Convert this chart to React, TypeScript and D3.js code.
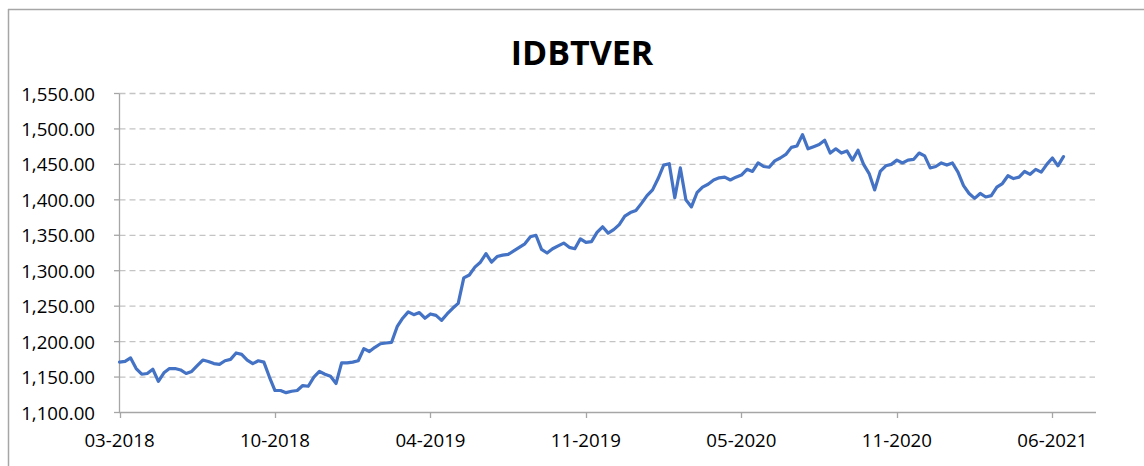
import React, { useEffect, useRef } from 'react';
import * as d3 from 'd3';

// chart text
const title = 'IDBTVER';

// weekly index levels, first observation on startDate
const startDate = '2018-03-23';
const values = [
  1171, 1172, 1177, 1162, 1154, 1155, 1161, 1144, 1156, 1162,
  1162, 1160, 1155, 1158, 1166, 1174, 1172, 1169, 1168, 1173,
  1175, 1184, 1182, 1174, 1169, 1173, 1171, 1150, 1131, 1131,
  1128, 1130, 1131, 1138, 1137, 1150, 1158, 1154, 1151, 1141,
  1170, 1170, 1171, 1173, 1190, 1186, 1192, 1197, 1198, 1199,
  1221, 1233, 1242, 1238, 1241, 1233, 1239, 1237, 1230, 1239,
  1247, 1254, 1290, 1294, 1305, 1312, 1324, 1312, 1320, 1322,
  1323, 1328, 1333, 1338, 1348, 1350, 1330, 1325, 1331, 1335,
  1339, 1333, 1331, 1345, 1340, 1341, 1354, 1362, 1353, 1358,
  1365, 1377, 1382, 1385, 1395, 1406, 1414, 1430, 1449, 1451,
  1403, 1445, 1400, 1390, 1410, 1418, 1422, 1428, 1431, 1432,
  1428, 1432, 1435, 1443, 1440, 1452, 1447, 1446, 1455, 1459,
  1464, 1474, 1476, 1492, 1472, 1475, 1478, 1484, 1466, 1472,
  1466, 1469, 1456, 1470, 1450, 1437, 1414, 1440, 1448, 1450,
  1456, 1452, 1456, 1457, 1466, 1462, 1445, 1447, 1452, 1449,
  1452, 1439, 1420, 1409, 1402, 1409, 1404, 1406, 1418, 1423,
  1434, 1430, 1432, 1440, 1436, 1443, 1439, 1450, 1459, 1448,
  1461,
];

// axes
const yTicks = [1100, 1150, 1200, 1250, 1300, 1350, 1400, 1450, 1500, 1550];
const xTickDates = ['2018-03-23', '2018-10-05', '2019-04-19', '2019-11-01', '2020-05-15', '2020-11-27', '2021-06-11'];
const axisEndDate = '2021-08-05';

const App = () => {
  const ref = useRef(null);

  useEffect(() => {
    const svg = d3.select(ref.current);
    svg.selectAll('*').remove();

    const parse = d3.utcParse('%Y-%m-%d');
    const start = parse(startDate);
    const data = values.map((v, i) => ({ date: d3.utcDay.offset(start, 7 * i), value: v }));

    const x = d3.scaleUtc()
      .domain([start, parse(axisEndDate)])
      .range([119.5, 1096]);

    const y = d3.scaleLinear()
      .domain([1100, 1550])
      .range([412.5, 93.5]);

    const font = "'Open Sans', sans-serif";

    // chart area border (left and top edges visible)
    svg.append('line')
      .attr('x1', 8.5).attr('x2', 8.5).attr('y1', 9).attr('y2', 466)
      .attr('stroke', '#a6a6a6').attr('stroke-width', 1.5);
    svg.append('line')
      .attr('x1', 8).attr('x2', 1144).attr('y1', 9.5).attr('y2', 9.5)
      .attr('stroke', '#a6a6a6').attr('stroke-width', 1.5);

    svg.append('text')
      .attr('x', 582)
      .attr('y', 65)
      .attr('text-anchor', 'middle')
      .style('font-family', font)
      .style('font-weight', 'bold')
      .style('font-size', '34px')
      .attr('fill', '#000')
      .text(title);

    // gridlines
    svg.append('g')
      .selectAll('line')
      .data(yTicks.filter(d => d !== 1100))
      .join('line')
      .attr('x1', 119.5)
      .attr('x2', 1095)
      .attr('y1', d => y(d))
      .attr('y2', d => y(d))
      .attr('stroke', '#c4c4c4')
      .attr('stroke-width', 1.3)
      .attr('stroke-dasharray', '6,4');

    const fmtY = d3.format(',.2f');
    const yAxis = svg.append('g');
    yAxis.append('line')
      .attr('x1', 119.5).attr('x2', 119.5)
      .attr('y1', y(1550)).attr('y2', y(1100))
      .attr('stroke', '#a6a6a6').attr('stroke-width', 1.3);
    yAxis.selectAll('line.tick')
      .data(yTicks)
      .join('line')
      .attr('class', 'tick')
      .attr('x1', 114).attr('x2', 119.5)
      .attr('y1', d => y(d)).attr('y2', d => y(d))
      .attr('stroke', '#a6a6a6').attr('stroke-width', 1.3);
    yAxis.selectAll('text')
      .data(yTicks)
      .join('text')
      .attr('x', 95)
      .attr('y', d => y(d) + 7)
      .attr('text-anchor', 'end')
      .style('font-family', font)
      .style('font-size', '18.7px')
      .attr('fill', '#000')
      .text(d => fmtY(d));

    const fmtX = d3.utcFormat('%m-%Y');
    const xAxis = svg.append('g');
    xAxis.append('line')
      .attr('x1', 119).attr('x2', 1096)
      .attr('y1', y(1100)).attr('y2', y(1100))
      .attr('stroke', '#a6a6a6').attr('stroke-width', 1.3);
    const xt = xTickDates.map(s => parse(s));
    xAxis.selectAll('line.tick')
      .data(xt)
      .join('line')
      .attr('class', 'tick')
      .attr('x1', d => Math.round(x(d)) + 0.5).attr('x2', d => Math.round(x(d)) + 0.5)
      .attr('y1', y(1100)).attr('y2', y(1100) + 5.5)
      .attr('stroke', '#a6a6a6').attr('stroke-width', 1.3);
    xAxis.selectAll('text')
      .data(xt)
      .join('text')
      .attr('x', d => x(d))
      .attr('y', 447)
      .attr('text-anchor', 'middle')
      .style('font-family', font)
      .style('font-size', '18.7px')
      .attr('fill', '#000')
      .text(d => fmtX(d));

    const line = d3.line()
      .x(d => x(d.date))
      .y(d => y(d.value));

    svg.append('path')
      .datum(data)
      .attr('d', line)
      .attr('fill', 'none')
      .attr('stroke', '#4472c4')
      .attr('stroke-width', 3.2)
      .attr('stroke-linejoin', 'round')
      .attr('stroke-linecap', 'round');
  }, []);

  return (
    <svg
      ref={ref}
      width={1144}
      height={466}
      style={{ position: 'absolute', left: 0, top: 0, background: '#fff' }}
    />
  );
};

export default App;
